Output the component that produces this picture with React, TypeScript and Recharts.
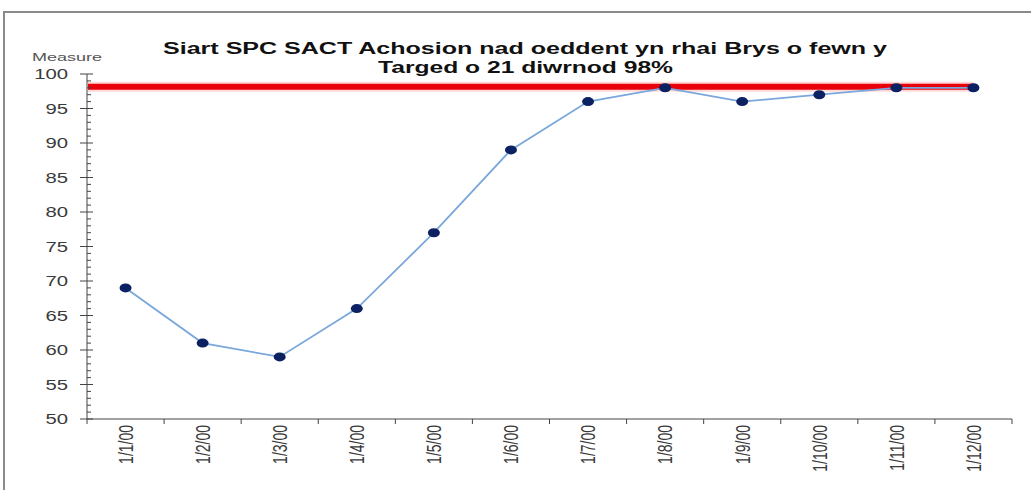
import { LineChart, Line, XAxis, YAxis, ReferenceLine } from "recharts";

const months = [
  "1/1/00",
  "1/2/00",
  "1/3/00",
  "1/4/00",
  "1/5/00",
  "1/6/00",
  "1/7/00",
  "1/8/00",
  "1/9/00",
  "1/10/00",
  "1/11/00",
  "1/12/00",
];
const measure = [69, 61, 59, 66, 77, 89, 96, 98, 96, 97, 98, 98];
const TARGET = 98;
const majorTicks = [50, 55, 60, 65, 70, 75, 80, 85, 90, 95, 100];
const yTicks = Array.from({ length: 51 }, (_, i) => 50 + i);

const W = 1031;
const H = 490;
const MARGIN = { top: 74, right: 19, left: 37, bottom: 6 };
const Y_AXIS_W = 50;
const PLOT_W = W - MARGIN.left - MARGIN.right - Y_AXIS_W;
const HALF_BAND = PLOT_W / months.length / 2;
const STRETCH = 1.45; // the source picture is squashed wide
const FONT = '"Liberation Sans", Arial, sans-serif';

const data = months.map((month, i) => ({ month, value: measure[i] }));

function YTick(props: any) {
  const { x, y, payload } = props;
  const v = payload.value as number;
  if (!majorTicks.includes(v)) {
    return <line x1={x} x2={x + 4} y1={y} y2={y} stroke="#444" strokeWidth={1} />;
  }
  return (
    <g>
      <line x1={x - 7} x2={x + 6} y1={y} y2={y} stroke="#444" strokeWidth={1} />
      <text
        transform={`translate(${x - 19},${y}) scale(${STRETCH},1)`}
        textAnchor="end"
        dy="0.36em"
        fontSize={14}
        fontFamily={FONT}
        fill="#3a3a3a"
      >
        {v}
      </text>
    </g>
  );
}

function XTick(props: any) {
  const { x, y, payload, index } = props;
  const last = index === months.length - 1;
  return (
    <g>
      <line x1={x - HALF_BAND} x2={x - HALF_BAND} y1={y} y2={y + 5} stroke="#444" />
      {last && (
        <line x1={x + HALF_BAND} x2={x + HALF_BAND} y1={y} y2={y + 5} stroke="#444" />
      )}
      <text
        transform={`translate(${x},${y + 6}) scale(${STRETCH},1) rotate(-90)`}
        textAnchor="end"
        dy="0.36em"
        fontSize={14}
        fontFamily={FONT}
        fill="#3a3a3a"
      >
        {payload.value}
      </text>
    </g>
  );
}

function Marker(props: any) {
  const { cx, cy } = props;
  if (cx == null || cy == null) return null;
  return <ellipse cx={cx} cy={cy} rx={6} ry={4.5} fill="#0b2161" />;
}

function TargetShape(props: any) {
  const { x1, y1, x2 } = props;
  const end = x2 - HALF_BAND;
  return (
    <g>
      <line x1={x1 + 1} x2={end} y1={y1 - 1} y2={y1 - 1} stroke="#ffb3b3" strokeWidth={10} opacity={0.5} />
      <line x1={x1 + 1} x2={end} y1={y1 - 1} y2={y1 - 1} stroke="#e8000a" strokeWidth={6} />
    </g>
  );
}

export default function App() {
  return (
    <div style={{ position: "absolute", left: 0, top: 0, width: W, height: H, background: "#fff" }}>
      <div
        style={{
          position: "absolute",
          left: 3,
          top: 11,
          width: W - 3,
          height: H - 11,
          borderLeft: "2px solid #8a8a8a",
          borderTop: "2px solid #8a8a8a",
          boxSizing: "border-box",
        }}
      />
      <svg
        width={W}
        height={H}
        style={{ position: "absolute", left: 0, top: 0, pointerEvents: "none" }}
      >
        <text
          x={163}
          y={54}
          textLength={724}
          lengthAdjust="spacingAndGlyphs"
          fontSize={16}
          fontWeight="bold"
          fontFamily={FONT}
          fill="#111"
        >
          Siart SPC SACT Achosion nad oeddent yn rhai Brys o fewn y
        </text>
        <text
          x={378}
          y={73}
          textLength={295}
          lengthAdjust="spacingAndGlyphs"
          fontSize={16}
          fontWeight="bold"
          fontFamily={FONT}
          fill="#111"
        >
          Targed o 21 diwrnod 98%
        </text>
        <text
          x={32}
          y={61}
          textLength={70}
          lengthAdjust="spacingAndGlyphs"
          fontSize={11}
          fontFamily={FONT}
          fill="#555"
        >
          Measure
        </text>
      </svg>
      <div style={{ position: "absolute", left: 0, top: 0 }}>
        <LineChart width={W} height={H} data={data} margin={MARGIN}>
          <XAxis
            dataKey="month"
            interval={0}
            height={65}
            padding={{ left: HALF_BAND, right: HALF_BAND }}
            tickLine={false}
            tickSize={0}
            tickMargin={0}
            axisLine={{ stroke: "#444" }}
            tick={<XTick />}
          />
          <YAxis
            domain={[50, 100]}
            ticks={yTicks}
            interval={0}
            width={Y_AXIS_W}
            tickLine={false}
            tickSize={0}
            tickMargin={0}
            axisLine={{ stroke: "#444" }}
            tick={<YTick />}
            allowDataOverflow
          />
          <ReferenceLine y={TARGET} shape={<TargetShape />} ifOverflow="visible" />
          <Line
            dataKey="value"
            stroke="#7aa7dc"
            strokeWidth={1.8}
            dot={<Marker />}
            activeDot={false}
            isAnimationActive={false}
          />
        </LineChart>
      </div>
    </div>
  );
}
